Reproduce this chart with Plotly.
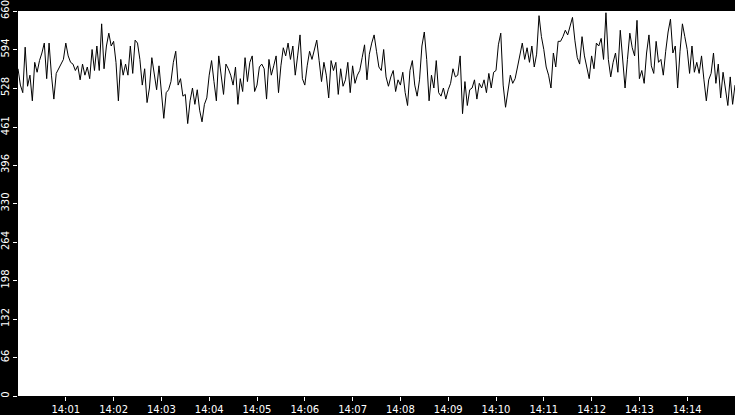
import plotly.graph_objects as go
import pandas as pd

# readings every 3 s, split by 2.5 minute blocks (14:00:00 -> 14:15:00)
block_1 = [561, 533, 520, 598, 531, 550, 506, 572, 555, 575,
           588, 605, 544, 605, 550, 509, 553, 561, 569, 577,
           605, 583, 572, 569, 558, 566, 542, 569, 550, 564,
           544, 594, 558, 600, 558, 638, 561, 600, 622, 600,
           608, 572, 506, 577, 550, 569, 550, 600, 553, 610]
block_2 = [605, 577, 533, 561, 503, 528, 580, 555, 525, 566,
           522, 476, 520, 525, 539, 572, 591, 533, 544, 514,
           517, 467, 506, 528, 500, 525, 490, 470, 500, 511,
           550, 575, 539, 506, 583, 550, 517, 569, 561, 550,
           533, 564, 500, 544, 522, 580, 539, 572, 583, 522]
block_3 = [533, 564, 569, 561, 509, 577, 550, 566, 583, 520,
           566, 597, 583, 605, 577, 600, 550, 583, 619, 544,
           533, 566, 591, 577, 594, 610, 575, 539, 572, 550,
           511, 575, 558, 572, 517, 561, 531, 542, 572, 520,
           566, 536, 550, 558, 580, 602, 542, 586, 605, 619]
block_4 = [591, 564, 558, 594, 547, 531, 547, 558, 522, 542,
           533, 555, 520, 498, 558, 575, 533, 514, 542, 600,
           624, 577, 506, 550, 528, 575, 520, 514, 528, 509,
           525, 536, 561, 547, 550, 583, 484, 539, 498, 525,
           528, 542, 509, 536, 528, 542, 520, 553, 528, 555]
block_5 = [558, 602, 622, 533, 495, 525, 550, 536, 544, 564,
           588, 605, 577, 597, 572, 600, 564, 586, 652, 616,
           594, 564, 550, 528, 588, 564, 608, 608, 616, 627,
           619, 635, 649, 610, 580, 569, 616, 583, 566, 544,
           583, 561, 605, 600, 613, 577, 657, 577, 547, 572]
block_6 = [588, 555, 627, 569, 528, 577, 622, 597, 583, 644,
           544, 558, 536, 588, 619, 566, 553, 608, 572, 577,
           550, 591, 624, 646, 588, 600, 528, 591, 638, 616,
           594, 553, 600, 555, 572, 553, 583, 542, 506, 542,
           553, 588, 536, 569, 511, 555, 522, 498, 547, 500,
           533]

values = block_1 + block_2 + block_3 + block_4 + block_5 + block_6
times = pd.date_range('2024-01-01 14:00:00', periods=len(values), freq='3s')

y_ticks = [0, 66, 132, 198, 264, 330, 396, 461, 528, 594, 660]
x_ticks = pd.date_range('2024-01-01 14:01:00', '2024-01-01 14:14:00', freq='1min')

fig = go.Figure()
fig.add_trace(go.Scatter(
    x=times,
    y=values,
    mode='lines',
    line=dict(color='black', width=1),
    hoverinfo='x+y'
))

fig.update_layout(
    width=735,
    height=415,
    margin=dict(l=15, r=0, t=0, b=15),
    paper_bgcolor='black',
    plot_bgcolor='white',
    showlegend=False,
    font=dict(family='DejaVu Sans', size=10, color='white'),
    xaxis=dict(
        range=['2024-01-01 14:00:00', '2024-01-01 14:15:00'],
        tickvals=x_ticks,
        ticktext=[t.strftime('%H:%M') for t in x_ticks],
        ticks='outside', ticklen=4, tickcolor='white',
        showgrid=False, zeroline=False, showline=False
    ),
    yaxis=dict(
        range=[0, 660],
        tickvals=y_ticks,
        ticktext=[str(v) for v in y_ticks],
        tickangle=-90,
        ticklabeloverflow='allow',
        ticks='outside', ticklen=4, tickcolor='white',
        showgrid=False, zeroline=False, showline=False
    )
)

# drop the browser's default body margin so the chart fills the window
fig.write_html("out.html", config={'displayModeBar': False},
               post_script="document.body.style.margin='0';")
